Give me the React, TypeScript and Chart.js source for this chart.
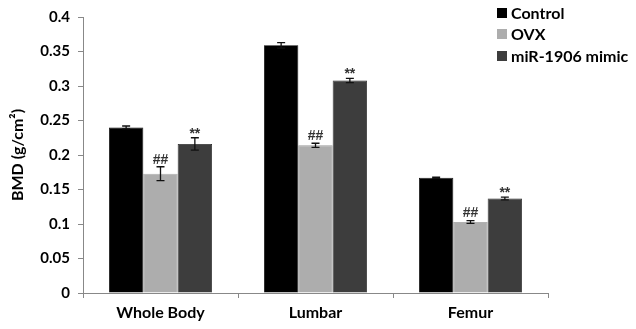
import React, { useEffect, useRef } from "react";
import { Chart, registerables } from "chart.js";

Chart.register(...registerables);

const categories = ["Whole Body", "Lumbar", "Femur"];
const seriesNames = ["Control", "OVX", "miR-1906 mimic"];
const control = [0.24, 0.359, 0.167];
const controlErr = [0.002, 0.004, 0.001];
const ovx = [0.173, 0.214, 0.103];
const ovxErr = [0.01, 0.003, 0.002];
const mimic = [0.216, 0.308, 0.137];
const mimicErr = [0.009, 0.003, 0.002];
const controlMarks = ["", "", ""];
const ovxMarks = ["##", "##", "##"];
const mimicMarks = ["**", "**", "**"];
const yTicks = [0, 0.05, 0.1, 0.15, 0.2, 0.25, 0.3, 0.35, 0.4];

const colors = ["#000000", "#adadad", "#3d3d3d"];
const FONT = "Lato, 'Open Sans', sans-serif";

const errorPlugin = {
  id: "errbars",
  afterDatasetsDraw(chart: any) {
    const ctx = chart.ctx;
    const y = chart.scales.y;
    chart.data.datasets.forEach((ds: any, i: number) => {
      const meta = chart.getDatasetMeta(i);
      meta.data.forEach((bar: any, j: number) => {
        const v = ds.data[j];
        const e = ds.err[j];
        const top = y.getPixelForValue(v + e);
        const bot = y.getPixelForValue(v - e);
        const x = bar.x;
        ctx.save();
        ctx.strokeStyle = "#111";
        ctx.lineWidth = 1.3;
        ctx.beginPath();
        ctx.moveTo(x, top);
        ctx.lineTo(x, bot);
        ctx.moveTo(x - 4, top);
        ctx.lineTo(x + 4, top);
        ctx.moveTo(x - 4, bot);
        ctx.lineTo(x + 4, bot);
        ctx.stroke();
        const m = ds.marks[j];
        if (m) {
          ctx.fillStyle = "#333";
          ctx.font = "bold 14px 'Liberation Sans', Arial, sans-serif";
          ctx.textAlign = "center";
          ctx.textBaseline = "bottom";
          ctx.fillText(m, x, m === "**" ? top + 3 : top);
        }
        ctx.restore();
      });
    });
  },
};

const legendPlugin = {
  id: "customLegend",
  afterDraw(chart: any) {
    const ctx = chart.ctx;
    ctx.save();
    ctx.font = "bold 16px " + FONT;
    ctx.textBaseline = "middle";
    ctx.textAlign = "left";
    const ys = [13, 34, 56];
    seriesNames.forEach((n, i) => {
      ctx.fillStyle = colors[i];
      ctx.fillRect(497, ys[i] - 5, 10, 10);
      ctx.fillStyle = "#000";
      ctx.fillText(n, 511, ys[i] + 1);
    });
    ctx.restore();
  },
};

export default function App() {
  const ref = useRef<HTMLCanvasElement>(null);
  useEffect(() => {
    const chart = new Chart(ref.current!, {
      type: "bar",
      data: {
        labels: categories,
        datasets: [
          { label: seriesNames[0], data: control, err: controlErr, marks: controlMarks, backgroundColor: colors[0], borderColor: "#000", borderWidth: 0.8 } as any,
          { label: seriesNames[1], data: ovx, err: ovxErr, marks: ovxMarks, backgroundColor: colors[1], borderColor: "#9a9a9a", borderWidth: 0.8 } as any,
          { label: seriesNames[2], data: mimic, err: mimicErr, marks: mimicMarks, backgroundColor: colors[2], borderColor: "#222", borderWidth: 0.8 } as any,
        ],
      },
      options: {
        animation: false,
        responsive: false,
        maintainAspectRatio: false,
        layout: { padding: { top: 16, right: 88, left: 0, bottom: 0 } },
        datasets: { bar: { categoryPercentage: 0.665, barPercentage: 1.0 } },
        plugins: { legend: { display: false }, tooltip: { enabled: false } },
        scales: {
          x: {
            grid: { offset: true, drawOnChartArea: false, tickLength: 5, color: "#888" },
            border: { color: "#888", width: 1 },
            ticks: { color: "#000", font: { family: FONT, weight: "bold", size: 16 }, padding: 5 },
            afterFit: (s: any) => { s.height = 36; },
          },
          y: {
            min: 0,
            max: 0.4,
            afterBuildTicks: (s: any) => { s.ticks = yTicks.map((v) => ({ value: v })); },
            grid: { drawOnChartArea: false, tickLength: 5, color: "#888" },
            border: { color: "#888", width: 1 },
            ticks: {
              color: "#000",
              font: { family: FONT, weight: "bold", size: 15 },
              padding: 8,
              callback: (v: any) => String(Math.round(Number(v) * 100) / 100),
            },
            title: {
              display: true,
              text: "BMD (g/cm²)",
              color: "#000",
              font: { family: FONT, weight: "bold", size: 16 },
              padding: { top: 8, bottom: 0 },
            },
            afterFit: (s: any) => { s.width = 83; },
          },
        },
      } as any,
      plugins: [errorPlugin, legendPlugin],
    });
    return () => chart.destroy();
  }, []);
  return (
    <div style={{ position: "absolute", left: 0, top: 0, width: 636, height: 329, background: "#fff" }}>
      <canvas ref={ref} width={636} height={329} />
    </div>
  );
}
